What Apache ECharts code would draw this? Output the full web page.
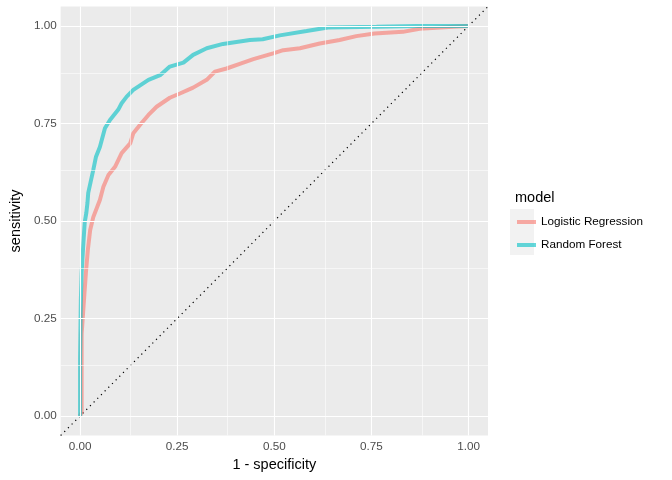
<!DOCTYPE html>
<html>
<head>
<meta charset="utf-8">
<script src="https://cdn.jsdelivr.net/npm/echarts@6/dist/echarts.min.js"></script>
<style>
  html, body { margin: 0; padding: 0; background: #fff; }
  #chart { width: 672px; height: 480px; }
</style>
</head>
<body>
<div id="chart"></div>
<script>
// ROC curve points (1 - specificity, sensitivity)
const lrFpr = [0, 0.004, 0.004, 0.010, 0.015, 0.020, 0.026, 0.034, 0.051, 0.060, 0.073, 0.090, 0.107, 0.129, 0.137, 0.154, 0.176, 0.197, 0.231, 0.257, 0.291, 0.326, 0.347, 0.377, 0.411, 0.446, 0.497, 0.523, 0.566, 0.617, 0.668, 0.711, 0.758, 0.831, 0.874, 0.960, 1];
const lrTpr = [0, 0.01, 0.21, 0.297, 0.367, 0.426, 0.477, 0.510, 0.554, 0.588, 0.618, 0.639, 0.674, 0.699, 0.725, 0.746, 0.772, 0.793, 0.816, 0.827, 0.842, 0.862, 0.883, 0.891, 0.903, 0.915, 0.930, 0.938, 0.943, 0.955, 0.964, 0.974, 0.981, 0.985, 0.993, 0.998, 1];
const rfFpr = [0, 0, 0.002, 0.004, 0.007, 0.009, 0.012, 0.016, 0.019, 0.021, 0.034, 0.041, 0.051, 0.064, 0.077, 0.098, 0.107, 0.120, 0.137, 0.176, 0.206, 0.231, 0.266, 0.291, 0.326, 0.368, 0.437, 0.470, 0.514, 0.583, 0.638, 0.763, 0.866, 1];
const rfTpr = [0, 0.15, 0.297, 0.367, 0.418, 0.451, 0.497, 0.520, 0.546, 0.572, 0.631, 0.665, 0.690, 0.738, 0.759, 0.785, 0.802, 0.819, 0.836, 0.862, 0.874, 0.896, 0.906, 0.926, 0.943, 0.954, 0.964, 0.966, 0.976, 0.987, 0.996, 0.998, 1.0, 1];
const diagonal = [-0.05, 1.05];
const majorTicks = [0, 0.25, 0.5, 0.75, 1];
const minorTicks = [0.125, 0.375, 0.625, 0.875];
const modelNames = ['Logistic Regression', 'Random Forest'];

const zip = (xs, ys) => xs.map((x, i) => [x, ys[i]]);

const chart = echarts.init(document.getElementById('chart'));

// white grid lines like ggplot's panel grid
const gridLines = [];
majorTicks.forEach(v => {
  gridLines.push({ xAxis: v, lineStyle: { color: '#fff', width: 1.1, type: 'solid' } });
  gridLines.push({ yAxis: v, lineStyle: { color: '#fff', width: 1.1, type: 'solid' } });
});
minorTicks.forEach(v => {
  gridLines.push({ xAxis: v, lineStyle: { color: '#fff', width: 0.55, type: 'solid' } });
  gridLines.push({ yAxis: v, lineStyle: { color: '#fff', width: 0.55, type: 'solid' } });
});

const axisCommon = {
  type: 'value',
  min: -0.05,
  max: 1.05,
  nameLocation: 'middle',
  nameTextStyle: { fontFamily: 'Liberation Sans', fontSize: 14.5, color: '#000' },
  axisLine: { show: false },
  splitLine: { show: false },
  axisTick: { show: true, length: 3, customValues: majorTicks, lineStyle: { color: '#333', width: 1 } },
  axisLabel: {
    customValues: majorTicks,
    fontFamily: 'Liberation Sans',
    fontSize: 11.7,
    color: '#4D4D4D',
    formatter: v => v.toFixed(2)
  }
};

const option = {
  backgroundColor: '#fff',
  animation: false,
  title: {
    text: 'model',
    left: 510,
    top: 185,
    textStyle: { fontFamily: 'Liberation Sans', fontSize: 14.5, fontWeight: 'normal', color: '#000' }
  },
  graphic: [{
    type: 'rect',
    shape: { x: 510, y: 209, width: 24, height: 46 },
    style: { fill: '#F2F2F2' },
    silent: true
  }],
  legend: {
    data: modelNames,
    orient: 'vertical',
    left: 512,
    top: 210,
    icon: 'rect',
    itemWidth: 19,
    itemHeight: 4,
    itemGap: 9,
    textStyle: { fontFamily: 'Liberation Sans', fontSize: 11.7, color: '#000', lineHeight: 14 }
  },
  grid: {
    left: 60.5,
    right: 184,
    top: 6.5,
    bottom: 44.5,
    show: true,
    backgroundColor: '#EBEBEB',
    borderWidth: 0
  },
  xAxis: Object.assign({}, axisCommon, {
    name: '1 - specificity',
    nameGap: 22,
    axisLabel: Object.assign({}, axisCommon.axisLabel, { margin: 5 })
  }),
  yAxis: Object.assign({}, axisCommon, {
    name: 'sensitivity',
    nameGap: 32,
    axisLabel: Object.assign({}, axisCommon.axisLabel, { margin: 4 })
  }),
  series: [
    {
      name: 'diagonal',
      type: 'line',
      data: zip(diagonal, diagonal),
      showSymbol: false,
      silent: true,
      z: 1,
      lineStyle: { color: '#000', width: 1.2, type: [1.2, 4] },
      markLine: {
        silent: true,
        symbol: 'none',
        label: { show: false },
        data: gridLines
      }
    },
    {
      name: modelNames[0],
      type: 'line',
      data: zip(lrFpr, lrTpr),
      showSymbol: false,
      z: 3,
      color: '#F8766D',
      itemStyle: { opacity: 0.6 },
      lineStyle: { width: 4, opacity: 0.6, cap: 'butt' }
    },
    {
      name: modelNames[1],
      type: 'line',
      data: zip(rfFpr, rfTpr),
      showSymbol: false,
      z: 4,
      color: '#00BFC4',
      itemStyle: { opacity: 0.6 },
      lineStyle: { width: 4, opacity: 0.6, cap: 'butt' }
    }
  ]
};

chart.setOption(option);
</script>
</body>
</html>
